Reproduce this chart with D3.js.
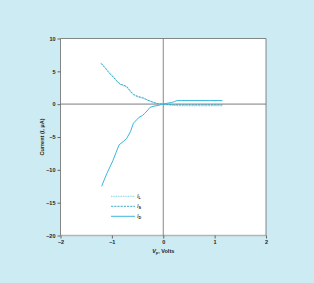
<!DOCTYPE html>
<html lang="en">
<head>
<meta charset="utf-8">
<script src="https://cdn.jsdelivr.net/npm/d3@7"></script>
<style>
  html, body { margin: 0; padding: 0; background: #cdebf2; }
  .axis text { font-family: "Liberation Sans", Arial, sans-serif; font-size: 5.5px; fill: #222; }
  .axis line { stroke: #666; }
  .lbl { font-family: "Liberation Sans", Arial, sans-serif; font-size: 5.5px; fill: #222; }
</style>
</head>
<body>
<div id="chart"></div>
<script>
// series values (V_p in volts, current in uA)
var dVolts  = [-1.2, -1.1, -0.98, -0.92, -0.86, -0.78, -0.71, -0.64, -0.58, -0.52, -0.47, -0.4, -0.36, -0.3, -0.26, -0.18, -0.1, -0.04, 0, 0.08, 0.16, 0.22, 0.27, 0.35, 0.6, 0.9, 1.15];
var dCurrent = [-12.5, -10.6, -8.6, -7.4, -6.2, -5.7, -5.2, -4.2, -2.9, -2.4, -2.0, -1.7, -1.4, -0.9, -0.5, -0.3, -0.2, -0.05, 0, 0.15, 0.25, 0.4, 0.55, 0.55, 0.55, 0.55, 0.55];

var lVolts   = [-1.21, -1.12, -1.04, -0.97, -0.9, -0.86, -0.78, -0.71, -0.64, -0.58, -0.5, -0.39, -0.3, -0.19, -0.1, 0, 0.1, 0.2, 0.35, 0.7, 1.15];
var lCurrent = [6.3, 5.5, 4.8, 4.3, 3.4, 3.1, 2.8, 2.6, 1.9, 1.4, 1.1, 0.9, 0.6, 0.3, 0.05, 0, -0.12, -0.2, -0.25, -0.25, -0.25];

var sVolts   = [-1.21, -1.12, -1.04, -0.97, -0.9, -0.84, -0.78, -0.71, -0.64, -0.58, -0.5, -0.39, -0.3, -0.19, -0.1, 0, 0.1, 0.2, 0.35, 0.7, 1.15];
var sCurrent = [6.2, 5.4, 4.6, 4.1, 3.5, 3.1, 2.9, 2.7, 2.0, 1.5, 1.2, 0.95, 0.6, 0.25, 0.05, 0, -0.05, -0.08, -0.1, -0.1, -0.1];

var xTicks = [-2, -1, 0, 1, 2];
var yTicks = [-20, -15, -10, -5, 0, 5, 10];
var legendNames = ["L", "S", "D"];

var W = 314, H = 283;
var plotL = 60.5, plotR = 266, plotT = 38.5, plotB = 235.5;

var svg = d3.select("#chart").append("svg")
    .attr("width", W).attr("height", H);

svg.append("rect").attr("width", W).attr("height", H).attr("fill", "#cdebf2");

var x = d3.scaleLinear().domain([-2, 2]).range([plotL, plotR]);
var y = d3.scaleLinear().domain([-20, 10]).range([plotB, plotT]);

svg.append("rect")
    .attr("x", plotL).attr("y", plotT)
    .attr("width", plotR - plotL).attr("height", plotB - plotT)
    .attr("fill", "#fff");

// zero line and bottom edge (light grey)
svg.append("line").attr("x1", plotL).attr("x2", plotR)
    .attr("y1", y(0)).attr("y2", y(0))
    .attr("stroke", "#b4b4b4").attr("stroke-width", 1.6);
svg.append("line").attr("x1", plotL).attr("x2", plotR)
    .attr("y1", plotB).attr("y2", plotB)
    .attr("stroke", "#b4b4b4").attr("stroke-width", 1.6);

// frame: left, top, right, plus vertical zero line
svg.append("path")
    .attr("d", "M" + plotL + "," + plotB + "V" + plotT + "H" + plotR + "V" + plotB)
    .attr("fill", "none").attr("stroke", "#6a6a6a").attr("stroke-width", 0.8);
svg.append("line").attr("x1", x(0)).attr("x2", x(0))
    .attr("y1", plotT).attr("y2", plotB)
    .attr("stroke", "#6a6a6a").attr("stroke-width", 0.8);

var fmt = function(d) { return d < 0 ? "\u2013" + Math.abs(d) : d; };

var yAxis = d3.axisLeft(y).tickValues(yTicks).tickSize(3).tickPadding(2).tickFormat(fmt);
var gy = svg.append("g").attr("class", "axis").attr("transform", "translate(" + plotL + ",0)").call(yAxis);
gy.select(".domain").remove();
gy.selectAll("text").style("font-weight", "bold");

var xAxis = d3.axisBottom(x).tickValues(xTicks).tickSize(3).tickPadding(1.5).tickFormat(fmt);
var gx = svg.append("g").attr("class", "axis").attr("transform", "translate(0," + plotB + ")").call(xAxis);
gx.select(".domain").remove();
gx.selectAll("text").style("font-weight", "bold");

var line = d3.line().x(function(d) { return x(d[0]); }).y(function(d) { return y(d[1]); });

var series = [
  { v: lVolts, c: lCurrent, color: "#6ec9e3", dash: "1,0.7", w: 0.9 },
  { v: sVolts, c: sCurrent, color: "#2aa4c6", dash: "2.2,1", w: 0.9 },
  { v: dVolts, c: dCurrent, color: "#3bb6de", dash: null, w: 1 }
];

series.forEach(function(s) {
  svg.append("path")
      .datum(d3.zip(s.v, s.c))
      .attr("d", line)
      .attr("fill", "none")
      .attr("stroke", s.color)
      .attr("stroke-width", s.w)
      .attr("stroke-dasharray", s.dash);
});

// legend
series.forEach(function(s, i) {
  var ly = 196.3 + i * 10;
  svg.append("line").attr("x1", 111).attr("x2", 135).attr("y1", ly).attr("y2", ly)
      .attr("stroke", s.color).attr("stroke-width", s.w).attr("stroke-dasharray", s.dash);
  var t = svg.append("text").attr("class", "lbl").attr("x", 137).attr("y", ly + 1.8);
  t.append("tspan").attr("font-style", "italic").text("I");
  t.append("tspan").attr("font-size", "3.8px").attr("dy", 1.2).style("font-weight", "bold").text(legendNames[i]);
});

// axis titles
var yt = svg.append("text").attr("class", "lbl")
    .attr("transform", "translate(44," + ((plotT + plotB) / 2) + ") rotate(-90)")
    .attr("text-anchor", "middle").style("font-weight", "bold");
yt.append("tspan").text("Current (");
yt.append("tspan").attr("font-style", "italic").text("I");
yt.append("tspan").text(", \u03bcA)");

var xt = svg.append("text").attr("class", "lbl")
    .attr("x", x(0)).attr("y", 253).attr("text-anchor", "middle").style("font-weight", "bold");
xt.append("tspan").attr("font-style", "italic").text("V");
xt.append("tspan").attr("font-size", "3.8px").attr("dy", 1.2).text("p");
xt.append("tspan").attr("dy", -1.2).text(", Volts");
</script>
</body>
</html>
